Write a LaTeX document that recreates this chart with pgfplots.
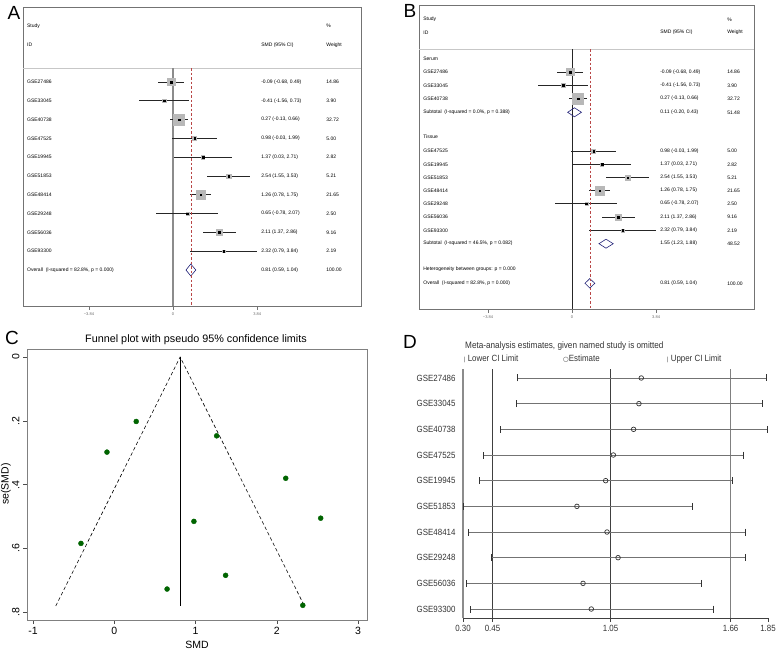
\documentclass[border=0pt]{standalone}
\usepackage{fontspec}
\setmainfont{Liberation Sans}
\newfontfamily\narrowfont[FakeStretch=0.88]{Liberation Sans}
\newfontfamily\dejavu{DejaVu Sans}
\usepackage{pgfplots}
\pgfplotsset{compat=1.18}
\usepackage{pgfplotstable}
\definecolor{navyd}{RGB}{35,35,120}
\definecolor{dgreen}{RGB}{0,100,0}
\definecolor{nullred}{RGB}{185,70,70}
\newcommand\fsA{\fontsize{5}{6}\selectfont}
\newcommand\frow[4]{%
 \node[anchor=west,font=\fsA,inner sep=0pt] at (axis cs:\xa,#1) {#2};
 \node[anchor=west,font=\fsA,inner sep=0pt] at (axis cs:\xb,#1) {#3};
 \node[anchor=west,font=\fsA,inner sep=0pt] at (axis cs:\xc,#1) {#4};}

\pgfplotstableread{
y est lo hi w
-82 -0.09 -0.68 0.49 14.86
-100.8 -0.41 -1.56 0.73 3.90
-119.6 0.27 -0.13 0.66 32.72
-138.4 0.98 -0.03 1.99 5.00
-157.2 1.37 0.03 2.71 2.82
-176 2.54 1.55 3.53 5.21
-194.8 1.26 0.78 1.75 21.65
-213.6 0.65 -0.78 2.07 2.50
-232.4 2.11 1.37 2.86 9.16
-251.2 2.32 0.79 3.84 2.19
}\dataA

\pgfplotstableread{
y est lo hi w
-72 -0.09 -0.68 0.49 14.86
-85.3 -0.41 -1.56 0.73 3.90
-98.7 0.27 -0.13 0.66 32.72
-151 0.98 -0.03 1.99 5.00
-164.3 1.37 0.03 2.71 2.82
-177.7 2.54 1.55 3.53 5.21
-190.7 1.26 0.78 1.75 21.65
-203.7 0.65 -0.78 2.07 2.50
-217 2.11 1.37 2.86 9.16
-230.3 2.32 0.79 3.84 2.19
}\dataB

\pgfplotstableread{
x y
-0.09 -0.298
-0.41 -0.584
0.27 -0.202
0.98 -0.515
1.37 -0.684
2.54 -0.505
1.26 -0.247
0.65 -0.727
2.11 -0.380
2.32 -0.778
}\dataC

\pgfplotstableread{
y lo est hi
10 0.574 1.206 1.841
9 0.571 1.194 1.821
8 0.488 1.167 1.846
7 0.405 1.064 1.723
6 0.381 1.025 1.667
5 0.303 0.879 1.464
4 0.329 1.032 1.735
3 0.442 1.088 1.733
2 0.316 0.910 1.509
1 0.335 0.952 1.570
}\dataD

\pgfplotsset{
 forest/.style={scale only axis, clip=false, anchor=north west,
   axis line style={black!55, line width=0.8pt},
   xtick pos=left, ytick=\empty, tick align=outside, major tick length=3.5pt,
   xtick style={black!55, line width=0.5pt},
   xticklabel style={font=\fontsize{4}{5}\selectfont, text=black!60},
   xtick={-3.84,0,3.84}, xticklabels={−3.84,0,3.84}},
 wsq/.style={scatter, only marks, mark=square*,
   mark options={draw=black!28, fill=black!28},
   scatter/use mapped color={draw=black!28, fill=black!28},
   visualization depends on={0.95*sqrt(\thisrow{w}) \as \wsz},
   scatter/@pre marker code/.append style={/tikz/mark size=\wsz}},
 ci/.style={only marks, mark=square*, mark size=0.75pt, black,
   error bars/.cd, x dir=both, x explicit, error mark=none,
   error bar style={line width=0.7pt, black!85}},
 diam/.style={draw=navyd, line width=0.6pt, mark=none},
}

\begin{document}
\begin{tikzpicture}
\useasboundingbox (0pt,0pt) rectangle (778pt,-651pt);

% ---------------- Panel A ----------------
\def\xa{-6.67}\def\xb{4.02}\def\xc{6.99}
\begin{axis}[forest, at={(23pt,-7pt)}, width=338pt, height=299pt,
  xmin=-6.85, xmax=8.58, ymin=-306, ymax=-7]
\addplot[black!22, line width=0.6pt] coordinates {(-6.85,-68) (8.58,-68)};
\addplot[black!45, line width=1.2pt] coordinates {(0,-68) (0,-306)};
\addplot[wsq] table[x=est,y=y] {\dataA};
\addplot[ci] table[x=est, y=y, x error plus expr={\thisrow{hi}-\thisrow{est}}, x error minus expr={\thisrow{est}-\thisrow{lo}}] {\dataA};
\addplot[diam] coordinates {(0.59,-270) (0.81,-264) (1.04,-270) (0.81,-276)} -- cycle;
\addplot[nullred, line width=0.5pt, dash pattern=on 2.5pt off 2pt] coordinates {(0.81,-68) (0.81,-306)};
\frow{-26}{Study}{}{\%}
\frow{-45}{ID}{SMD (95\% CI)}{Weight}
\frow{-82}{GSE27486}{-0.09 (-0.68, 0.49)}{14.86}
\frow{-100.8}{GSE33045}{-0.41 (-1.56, 0.73)}{3.90}
\frow{-119.6}{GSE40738}{0.27 (-0.13, 0.66)}{32.72}
\frow{-138.4}{GSE47525}{0.98 (-0.03, 1.99)}{5.00}
\frow{-157.2}{GSE19945}{1.37 (0.03, 2.71)}{2.82}
\frow{-176}{GSE51853}{2.54 (1.55, 3.53)}{5.21}
\frow{-194.8}{GSE48414}{1.26 (0.78, 1.75)}{21.65}
\frow{-213.6}{GSE29248}{0.65 (-0.78, 2.07)}{2.50}
\frow{-232.4}{GSE56036}{2.11 (1.37, 2.86)}{9.16}
\frow{-251.2}{GSE93300}{2.32 (0.79, 3.84)}{2.19}
\frow{-270}{Overall\ \ (I-squared = 82.8\%, p = 0.000)}{0.81 (0.59, 1.04)}{100.00}
\end{axis}

% ---------------- Panel B ----------------
\def\xa{-6.8}\def\xb{4.02}\def\xc{7.08}
\begin{axis}[forest, at={(419pt,-5pt)}, width=335pt, height=304pt,
  xmin=-6.99, xmax=8.31, ymin=-309, ymax=-5]
\addplot[black!22, line width=0.6pt] coordinates {(-6.99,-49) (8.31,-49)};
\addplot[black!85, line width=0.6pt] coordinates {(0,-49) (0,-309)};
\addplot[wsq] table[x=est,y=y] {\dataB};
\addplot[ci] table[x=est, y=y, x error plus expr={\thisrow{hi}-\thisrow{est}}, x error minus expr={\thisrow{est}-\thisrow{lo}}] {\dataB};
\addplot[diam] coordinates {(-0.20,-112.3) (0.11,-107.8) (0.43,-112.3) (0.11,-116.8)} -- cycle;
\addplot[diam] coordinates {(1.23,-243.7) (1.55,-239.2) (1.88,-243.7) (1.55,-248.2)} -- cycle;
\addplot[diam] coordinates {(0.59,-283.3) (0.81,-278.6) (1.04,-283.3) (0.81,-288)} -- cycle;
\addplot[nullred, line width=0.5pt, dash pattern=on 2.5pt off 2pt] coordinates {(0.81,-49) (0.81,-309)};
\frow{-19.3}{Study}{}{\%}
\frow{-32.7}{ID}{SMD (95\% CI)}{Weight}
\frow{-58.3}{Serum}{}{}
\frow{-72}{GSE27486}{-0.09 (-0.68, 0.49)}{14.86}
\frow{-85.3}{GSE33045}{-0.41 (-1.56, 0.73)}{3.90}
\frow{-98.7}{GSE40738}{0.27 (-0.13, 0.66)}{32.72}
\frow{-112.3}{Subtotal\ \ (I-squared = 0.0\%, p = 0.388)}{0.11 (-0.20, 0.43)}{51.48}
\frow{-136.7}{Tissue}{}{}
\frow{-151}{GSE47525}{0.98 (-0.03, 1.99)}{5.00}
\frow{-164.3}{GSE19945}{1.37 (0.03, 2.71)}{2.82}
\frow{-177.7}{GSE51853}{2.54 (1.55, 3.53)}{5.21}
\frow{-190.7}{GSE48414}{1.26 (0.78, 1.75)}{21.65}
\frow{-203.7}{GSE29248}{0.65 (-0.78, 2.07)}{2.50}
\frow{-217}{GSE56036}{2.11 (1.37, 2.86)}{9.16}
\frow{-230.3}{GSE93300}{2.32 (0.79, 3.84)}{2.19}
\frow{-243.7}{Subtotal\ \ (I-squared = 46.5\%, p = 0.082)}{1.55 (1.23, 1.88)}{48.52}
\frow{-269.3}{Heterogeneity between groups: p = 0.000}{}{}
\frow{-283.3}{Overall\ \ (I-squared = 82.8\%, p = 0.000)}{0.81 (0.59, 1.04)}{100.00}
\end{axis}

% ---------------- Panel C ----------------
\begin{axis}[at={(27pt,-349pt)}, anchor=north west, scale only axis, clip=false,
  width=340pt, height=271pt, xmin=-1.074, xmax=3.11, ymin=-0.824, ymax=0.025,
  axis line style={black!50, line width=0.8pt},
  tick style={black!70, line width=0.6pt}, tick align=outside, major tick length=4pt,
  xtick pos=left, ytick pos=left,
  xtick={-1,0,1,2,3}, xticklabels={-1,0,1,2,3},
  ytick={-0.8,-0.6,-0.4,-0.2,0}, yticklabels={.8,.6,.4,.2,0},
  ticklabel style={font=\fontsize{10.5}{12}\selectfont},
  yticklabel style={rotate=90, anchor=south}]
\addplot[black, line width=0.6pt, dash pattern=on 3.5pt off 2.5pt] coordinates {(-0.72,-0.78) (0.81,0) (2.34,-0.78)};
\addplot[black, line width=0.6pt] coordinates {(0.81,0) (0.81,-0.78)};
\addplot[only marks, mark=*, mark size=2.5pt, color=dgreen] table[x=x,y=y] {\dataC};
\end{axis}
\node[font=\fontsize{10.8}{12}\selectfont] at (196pt,-340pt) {Funnel plot with pseudo 95\% confidence limits};
\node[font=\fontsize{10.5}{12}\selectfont] at (197pt,-645pt) {SMD};
\node[font=\fontsize{10.5}{12}\selectfont, rotate=90] at (6pt,-484pt) {se(SMD)};

% ---------------- Panel D ----------------
\begin{axis}[at={(463pt,-369pt)}, anchor=north west, scale only axis, clip=false,
  width=305pt, height=249pt, xmin=0.30, xmax=1.85, ymin=0.65, ymax=10.35,
  axis x line*=bottom, axis y line*=left,
  x axis line style={-, black!75, line width=0.7pt},
  y axis line style={-, black!45, line width=1.1pt},
  xtick={0.30,0.45,1.05,1.66,1.85}, xticklabels={0.30,0.45,1.05,1.66,1.85},
  ytick={1,...,10},
  yticklabels={GSE93300,GSE56036,GSE29248,GSE48414,GSE51853,GSE19945,GSE47525,GSE40738,GSE33045,GSE27486},
  ytick style={draw=none}, xtick style={black!75, line width=0.6pt},
  tick align=outside, major tick length=4pt,
  ticklabel style={font=\narrowfont\fontsize{9}{10}\selectfont, text=black!80}]
\addplot[black!75, line width=0.6pt] coordinates {(0.45,0.65) (0.45,10.35)};
\addplot[black!75, line width=0.6pt] coordinates {(1.05,0.65) (1.05,10.35)};
\addplot[black!50, line width=1pt] coordinates {(1.66,0.65) (1.66,10.35)};
\addplot[only marks, mark=o, mark size=2.3pt, black!80, mark options={fill=white, line width=0.7pt},
  error bars/.cd, x dir=both, x explicit,
  error mark options={rotate=90, mark size=3.5pt, line width=0.7pt, black!80},
  error bar style={line width=0.6pt, black!55}]
  table[x=est, y=y, x error plus expr={\thisrow{hi}-\thisrow{est}}, x error minus expr={\thisrow{est}-\thisrow{lo}}] {\dataD};
\end{axis}
\node[anchor=west, inner sep=0pt, font=\narrowfont\fontsize{9.3}{10}\selectfont, text=black!80] at (465pt,-346pt) {Meta-analysis estimates, given named study is omitted};
\node[anchor=west, inner sep=0pt, font=\narrowfont\fontsize{9}{10}\selectfont, text=black!80] at (464pt,-359pt) {{\fontsize{6}{7}\selectfont|} Lower CI Limit};
\node[anchor=west, inner sep=0pt, font=\narrowfont\fontsize{9}{10}\selectfont, text=black!80] at (563pt,-359pt) {{\dejavu\fontsize{6.5}{7}\selectfont ○}Estimate};
\node[anchor=west, inner sep=0pt, font=\narrowfont\fontsize{9}{10}\selectfont, text=black!80] at (667pt,-359pt) {{\fontsize{6}{7}\selectfont|} Upper CI Limit};

% ---------------- Panel letters ----------------
\node[font=\fontsize{19}{22}\selectfont] at (14pt,-13pt) {A};
\node[font=\fontsize{19}{22}\selectfont] at (410pt,-11pt) {B};
\node[font=\fontsize{19}{22}\selectfont] at (12pt,-338pt) {C};
\node[font=\fontsize{19}{22}\selectfont] at (410pt,-342pt) {D};
\end{tikzpicture}
\end{document}
